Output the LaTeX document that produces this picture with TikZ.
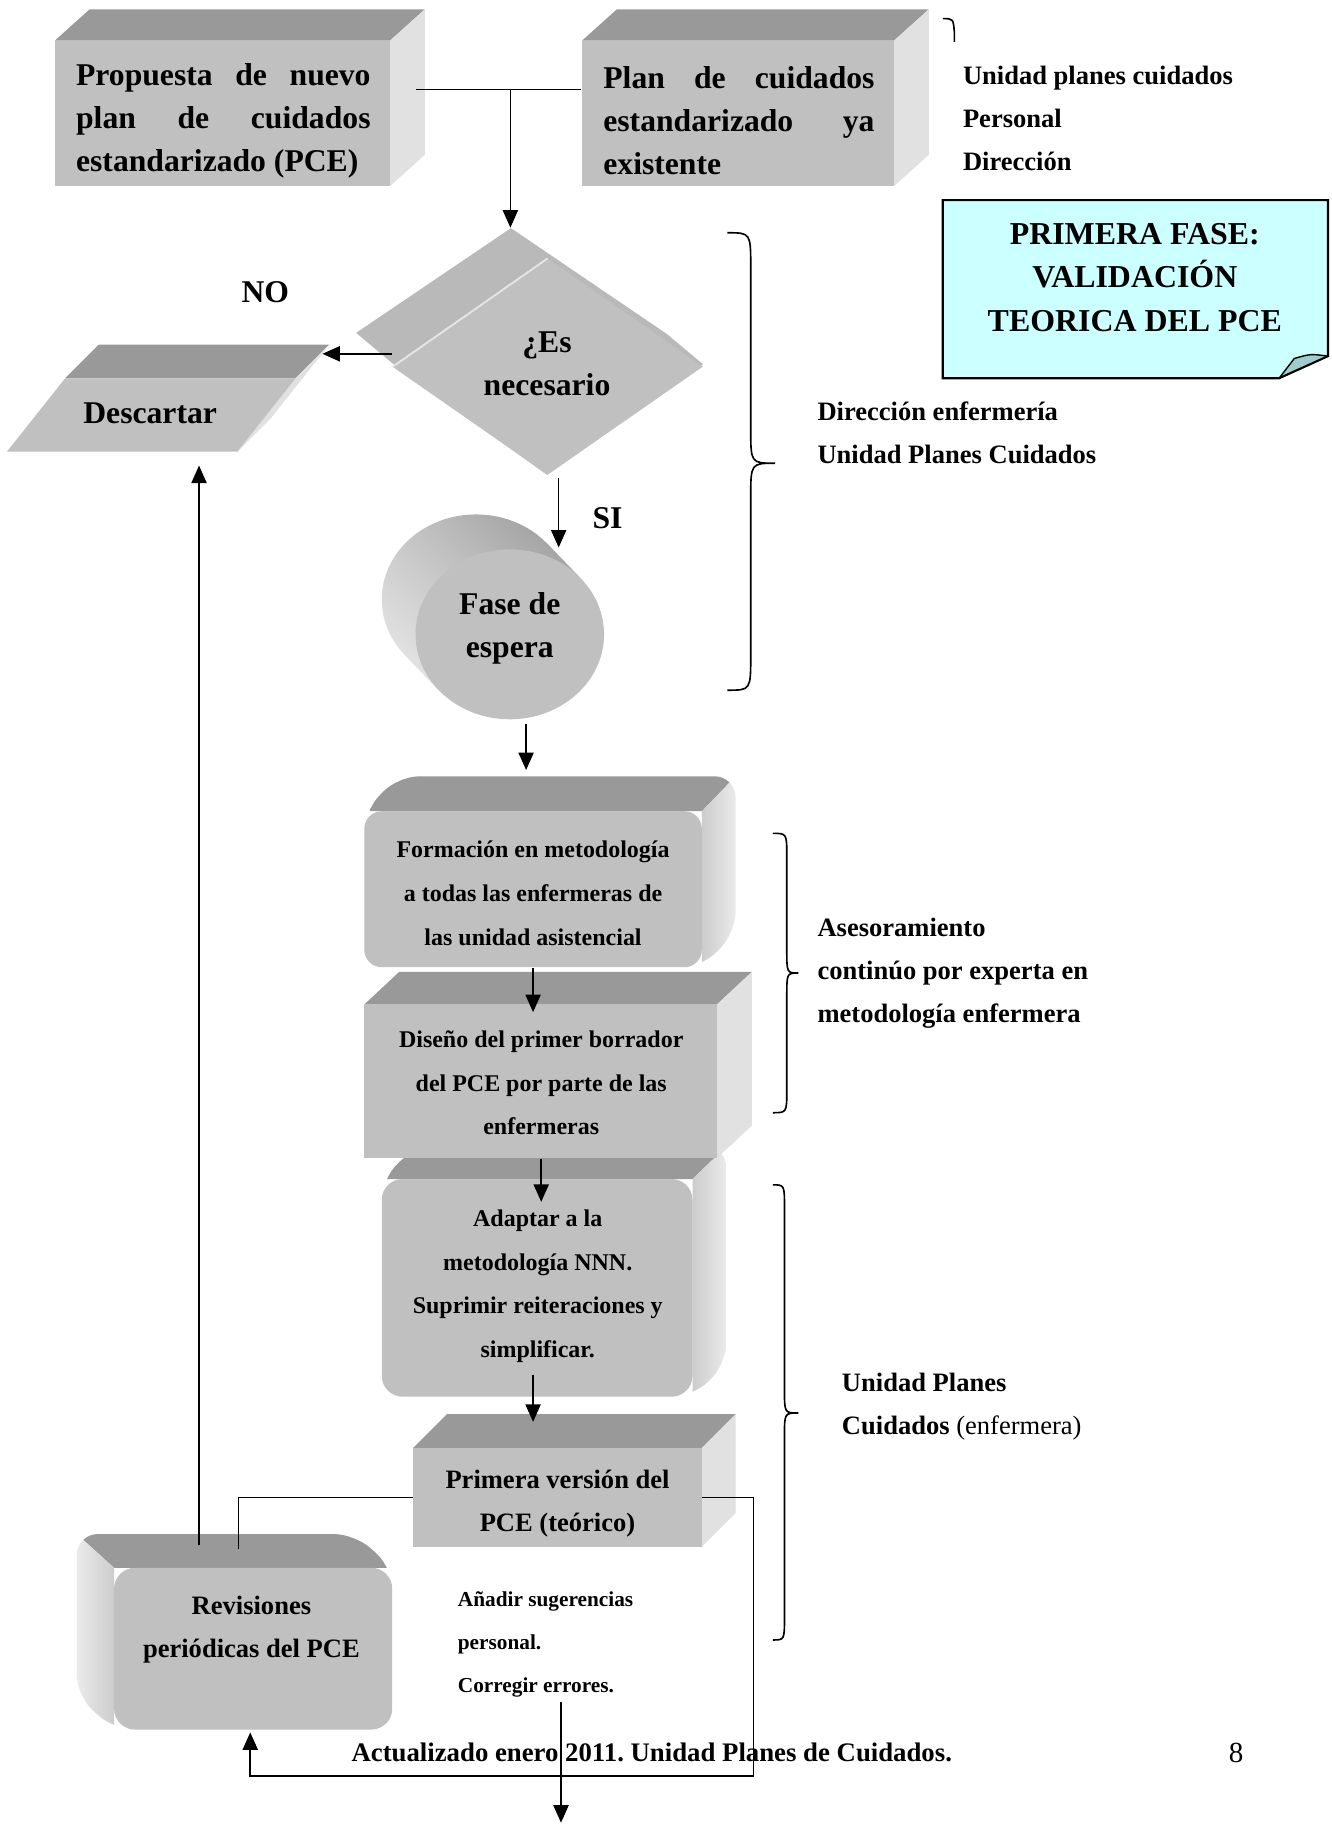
\documentclass[tikz,border=0pt]{standalone}
\usepackage{fontspec}
\setmainfont{Liberation Serif}
\usetikzlibrary{arrows.meta,calc,shapes.geometric,shadings}
\definecolor{ffront}{HTML}{C0C0C0}
\definecolor{ftop}{HTML}{999999}
\definecolor{fside}{HTML}{E1E1E1}
\definecolor{diaback}{HTML}{B9B9B9}
\definecolor{notefill}{HTML}{CCFFFF}
\definecolor{foldfill}{HTML}{9FCCCC}
\tikzset{
  frontface/.style={rectangle, fill=ffront, draw=none, inner sep=0pt},
  topface/.style={fill=ftop},
  sideface/.style={fill=fside},
  arr/.style={-{Triangle[length=7.5pt,width=6.5pt]}, line width=0.7pt},
  conn/.style={line width=0.7pt},
  bracestyle/.style={line width=0.7pt},
  txtbig/.style={font=\fontsize{13.6pt}{18.5pt}\selectfont\bfseries, align=center, inner sep=0pt},
  txtmid/.style={font=\fontsize{10.3pt}{18.75pt}\selectfont\bfseries, align=center, inner sep=0pt},
  txtbox/.style={font=\fontsize{11.4pt}{18.5pt}\selectfont\bfseries, align=center, inner sep=0pt},
  txtlab/.style={font=\fontsize{11.4pt}{18.5pt}\selectfont\bfseries, align=left, inner sep=0pt, anchor=west},
  txtsmall/.style={font=\fontsize{9.15pt}{18.5pt}\selectfont\bfseries, align=left, inner sep=0pt, anchor=west},
}
\newcommand\mybrace[7]{%
  \draw[bracestyle] (#1,#4) .. controls (#2,#4) .. (#2,#4+#7) -- (#2,#5-#7)
    .. controls (#2,#5) .. (#3,#5) .. controls (#2,#5) .. (#2,#5+#7)
    -- (#2,#6-#7) .. controls (#2,#6) .. (#1,#6);}
% rounded 3D box, depth up-right: x1,y1,x2,y2 (front), dx,dy (depth)
\newcommand\roundbackR[6]{%
  \begin{scope}
    \clip[rounded corners=9pt] (#1,#2) -- (#1+#5,#2+#6) -- (#3+#5,#2+#6) -- (#3+#5,#4+#6) -- (#3,#4) -- (#1,#4) -- cycle;
    \fill[topface] (#1-5,#2) -- (#1+#5,#2+#6) -- (#3+#5,#2+#6) -- (#3,#2) -- cycle;
    \shade[left color=black!20, right color=black!8] (#3,#2) -- (#3+#5,#2+#6) -- (#3+#5,#4+#6) -- (#3,#4) -- cycle;
  \end{scope}}
\begin{document}
\frenchspacing
\begin{tikzpicture}[x=0.5pt,y=-0.5pt]
\useasboundingbox (0,0) rectangle (1144,1568);
\fill[white] (0,0) rectangle (1144,1568);

% ---- Box 1
\fill[topface] (47,35) -- (77,8) -- (365,8) -- (335,35) -- cycle;
\fill[sideface] (335,35) -- (365,8) -- (365,133) -- (335,160) -- cycle;
\node[frontface, minimum width=144pt, minimum height=62.5pt] (b1) at (191,97.5) {};
\node[txtbig, anchor=west, align=left] (t1) at (65,104)
  {\makebox[126.5pt][s]{Propuesta de nuevo}\\\makebox[126.5pt][s]{plan de cuidados}\\estandarizado (PCE)};

% ---- Box 2
\fill[topface] (500,35) -- (530,8) -- (798,8) -- (768,35) -- cycle;
\fill[sideface] (768,35) -- (798,8) -- (798,133) -- (768,160) -- cycle;
\node[frontface, minimum width=134pt, minimum height=62.5pt] (b2) at (634,97.5) {};
\node[txtbig, anchor=west, align=left] (t2) at (518,104)
  {\makebox[116.5pt][s]{Plan de cuidados}\\\makebox[116.5pt][s]{estandarizado ya}\\existente};

% ---- right top labels
\node[txtlab] (l1) at (827,102) {Unidad planes cuidados\\Personal\\Dirección};
\draw[bracestyle] (810,16) .. controls (819,16) .. (820,28) -- (820,36);

% ---- note
\fill[notefill] (810,172) -- (1141,172) -- (1141,306) -- (1099,325) -- (810,325) -- cycle;
\fill[foldfill] (1099,325) .. controls (1106,316) .. (1112,308) .. controls (1126,304) .. (1141,306) -- cycle;
\draw[line width=0.9pt] (810,172) -- (1141,172) -- (1141,306) -- (1099,325) -- (810,325) -- cycle;
\draw[line width=0.6pt] (1099,325) .. controls (1106,316) .. (1112,308) .. controls (1126,304) .. (1141,306);
\node[font=\fontsize{13.7pt}{18.75pt}\selectfont\bfseries, align=center, inner sep=0pt] (note) at (975,238.5)
  {PRIMERA FASE:\\VALIDACIÓN\\TEORICA DEL PCE};

% ---- diamond
\fill[diaback] (439,196) -- (573,287) -- (604,313) -- (470,408) -- (337,312) -- (306,286) -- cycle;
\node[diamond, fill=ffront, inner sep=0pt, minimum width=133.5pt, minimum height=93pt] (dia) at (470.5,315) {};
\draw[white!80!gray, line width=0.8pt] (337.5,315) -- (470.5,222);
\node[txtbig] (tdia) at (470,312.5) {¿Es\\necesario};
\node[txtbig] (no) at (228,251) {NO};
\node[txtbig] (si) at (522,445) {SI};

% ---- Descartar
\fill[topface] (56,325) -- (85,296) -- (283,296) -- (254,325) -- cycle;
\fill[sideface] (254,325) -- (283,296) -- (233,359) -- (204,388) -- cycle;
\fill[ffront] (56,325) -- (254,325) -- (204,388) -- (6,388) -- cycle;
\node[txtbig] (desc) at (129,355) {Descartar};
\coordinate (descR) at (277,304);
\coordinate (descB) at (171,400);

% ---- cylinder
\begin{scope}
  \clip (409,515) ellipse [x radius=40.5pt, y radius=36.5pt];
  \shade[upper left=black!22, upper right=black!45, lower left=black!4, lower right=black!20] (325,438) rectangle (524,622);
\end{scope}
\begin{scope}
  \clip (470.1,467) -- (499.1,497) -- (376.9,593) -- (347.9,563) -- cycle;
  \shade[upper left=black!22, upper right=black!45, lower left=black!4, lower right=black!20] (325,438) rectangle (524,622);
\end{scope}
\node[ellipse, fill=ffront, inner sep=0pt, minimum width=81pt, minimum height=73pt] (cyl) at (438,545) {};
\node[txtbig] (tcyl) at (438,539.5) {Fase de\\espera};

% ---- Formacion (rounded)
\roundbackR{313}{697}{603}{831}{29}{-30}
\node[frontface, rounded corners=7.5pt, minimum width=145pt, minimum height=67pt] (form) at (458,764) {};
\node[txtmid] (tform) at (458,767.5) {Formación en metodología\\a todas las enfermeras de\\las unidad asistencial};

% ---- Adaptar (rounded)
\roundbackR{328}{1013}{595}{1200}{29}{-28}
\node[frontface, rounded corners=9pt, minimum width=133.5pt, minimum height=93.5pt] (ada) at (461.5,1106.5) {};
\node[txtmid] (tada) at (462,1105) {Adaptar a la\\metodología NNN.\\Suprimir reiteraciones y\\simplificar.};

% ---- Diseno
\fill[topface] (313,863) -- (343,835) -- (646,835) -- (616,863) -- cycle;
\fill[sideface] (616,863) -- (646,835) -- (646,967) -- (616,995) -- cycle;
\node[frontface, minimum width=151.5pt, minimum height=66pt] (dis) at (464.5,929) {};
\node[txtmid] (tdis) at (465,930.5) {Diseño del primer borrador\\del PCE por parte de las\\enfermeras};

% ---- Primera version
\fill[topface] (355,1244) -- (384,1215) -- (632,1215) -- (603,1244) -- cycle;
\fill[sideface] (603,1244) -- (632,1215) -- (632,1300) -- (603,1329) -- cycle;
\node[frontface, minimum width=124pt, minimum height=42.5pt] (pri) at (479,1286.5) {};
\node[txtbox] (tpri) at (479,1291.5) {Primera versión del\\PCE (teórico)};

% ---- Revisiones (rounded, depth to the upper left)
\begin{scope}
  \clip[rounded corners=9pt] (337,1347) -- (305,1318) -- (66,1318) -- (66,1457) -- (98,1486) -- (337,1486) -- cycle;
  \fill[topface] (98,1347) -- (66,1318) -- (305,1318) -- (342,1347) -- cycle;
  \shade[left color=black!8, right color=black!20] (98,1347) -- (66,1318) -- (66,1457) -- (98,1486) -- cycle;
\end{scope}
\node[frontface, rounded corners=9pt, minimum width=119.5pt, minimum height=69.5pt] (rev) at (217.5,1416.5) {};
\node[txtbox] (trev) at (216,1400.5) {Revisiones\\periódicas del PCE};

% ---- side labels
\node[txtlab] (l2) at (702,372) {Dirección enfermería\\Unidad Planes Cuidados};
\node[txtlab] (l3) at (702,836) {Asesoramiento\\continúo por experta en\\metodología enfermera};
\node[txtlab] (l4) at (723,1208.5) {Unidad Planes\\Cuidados {\mdseries (enfermera)}};
\node[txtsmall] (sug) at (393,1413) {Añadir sugerencias\\personal.\\Corregir errores.};

% ---- footer
\node[font=\fontsize{11.5pt}{14pt}\selectfont\bfseries, inner sep=0pt] (foot) at (560,1506) {Actualizado enero 2011. Unidad Planes de Cuidados.};
\node[font=\fontsize{12.5pt}{14pt}\selectfont, inner sep=0pt] (pg) at (1062,1506) {8};

% ---- braces
\mybrace{625}{645}{666}{200}{398}{593}{30}
\mybrace{664}{676}{686}{716}{836}{956}{20}
\mybrace{664}{674}{686}{1018}{1214}{1409}{20}

% ---- connectors
\coordinate (jA) at (357,77);
\coordinate (jB) at (438.5,77);
\draw[conn] (jA) -- (jA -| b2.west);
\draw[arr] (jB) -- ($(dia.north)+(-32,-26)$);
\draw[arr] ($(dia.west)+(0,-11)$) -- (descR);
\draw[arr] ($(dia.south)+(9.5,2)$) -- ++(0,60);
\draw[arr] ($(cyl.south)+(14,4)$) -- ($(form.north)+(-6,-35)$);
\draw[arr] (form.south) -- ($(dis.north)+(-6.5,7)$);
\draw[arr] ($(dis.south)+(0.5,0)$) -- ($(ada.north)+(3.5,20)$);
\draw[arr] ($(ada.south)+(-3.5,-19)$) -- ($(pri.north)+(-21,-22)$);
\draw[conn] (pri.west) -| ($(rev.north)+(-12.5,-16)$);
\draw[arr] ($(rev.north)+(-46.5,-19)$) -- (descB);
\draw[arr] (pri.east) -- ++(44,0) -- ++(0,239.5) -| ($(rev.south)+(-2.5,2)$);
\coordinate (sugOut) at (482,1462);
\coordinate (pageEnd) at (482,1566);
\draw[arr] (sugOut) -- (pageEnd);
\end{tikzpicture}
\end{document}
